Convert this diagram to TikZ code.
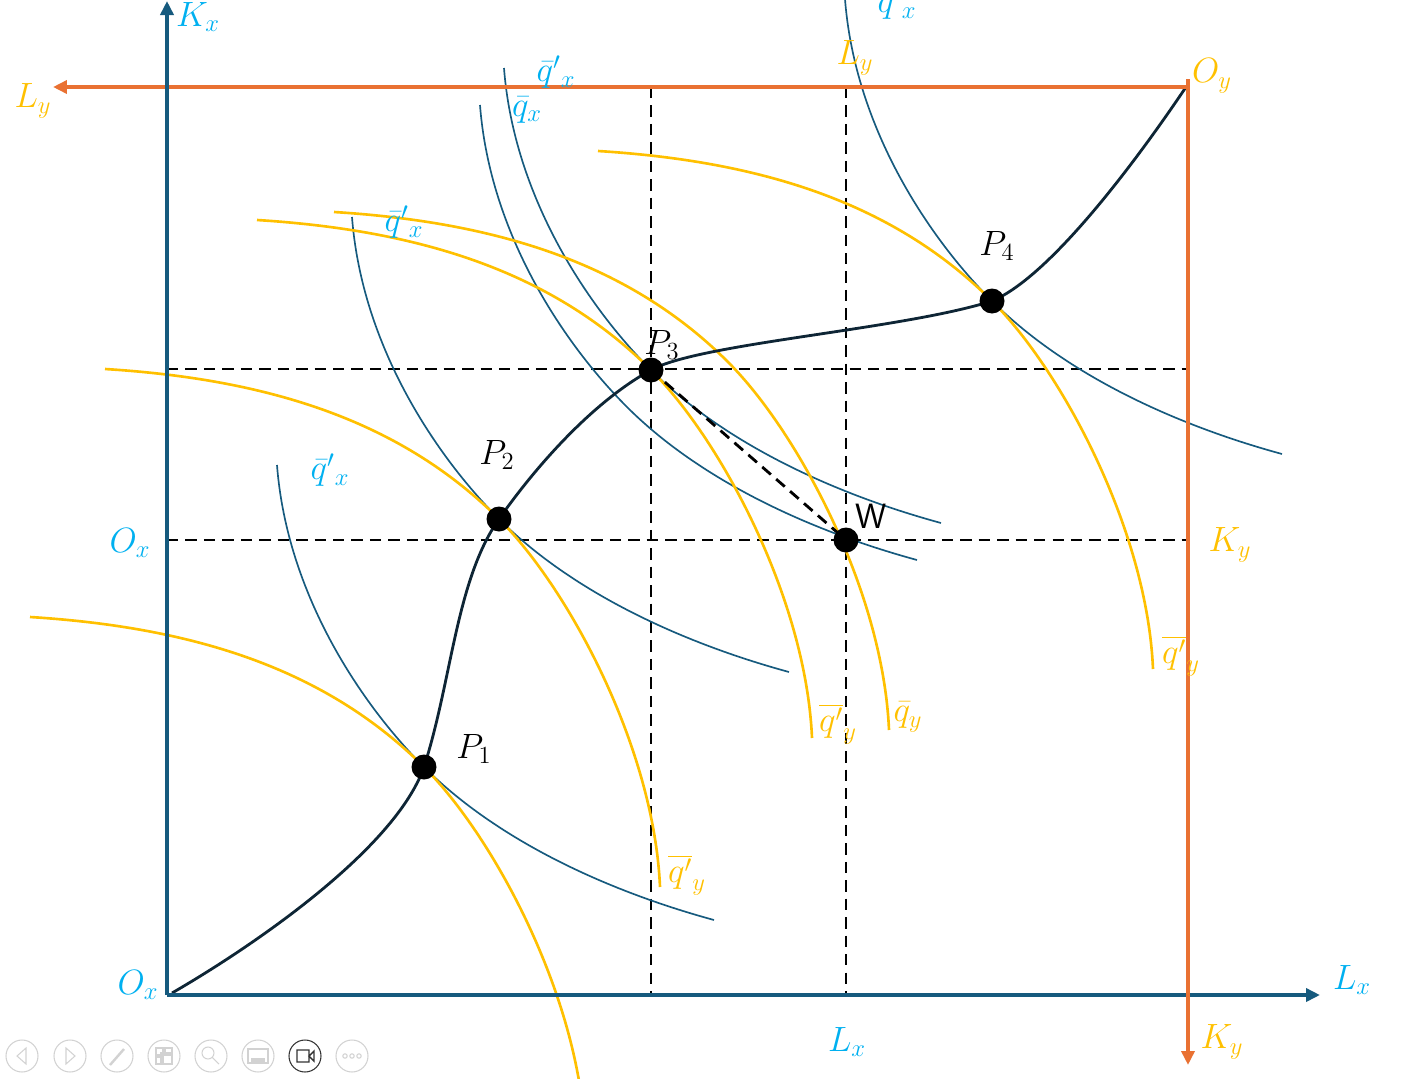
\RequirePackage{fix-cm}
\documentclass[tikz,border=0pt]{standalone}
\usetikzlibrary{arrows.meta}
\definecolor{axblue}{HTML}{165A7E}
\definecolor{axorange}{HTML}{E97132}
\definecolor{ygold}{HTML}{FFC000}
\definecolor{lcyan}{HTML}{00B0F0}
\definecolor{cdark}{HTML}{0E2535}
\definecolor{tbgray}{HTML}{D2D2D2}
\definecolor{tbdark}{HTML}{333333}
\begin{document}
\begin{tikzpicture}[x=0.02cm,y=-0.02cm,
  lbl/.style={font=\fontsize{20}{24}\selectfont, inner sep=0},
  cl/.style={lbl, text=lcyan},
  yl/.style={lbl, text=ygold},
  bl/.style={lbl, text=black},
  bluecurve/.style={draw=axblue, line width=0.95pt},
  goldcurve/.style={draw=ygold, line width=1.5pt},
  contract/.style={draw=cdark, line width=1.6pt},
  dashline/.style={draw=black, line width=1.6pt, dash pattern=on 6.5pt off 4pt},
  blueaxis/.style={draw=axblue, line width=2.3pt, -{Triangle[length=0.28cm,width=0.26cm]}},
  orangeaxis/.style={draw=axorange, line width=2pt, -{Triangle[length=0.28cm,width=0.26cm]}},
  dot/.style={circle, fill=black, inner sep=0, minimum size=0.5cm},
  tb/.style={draw=tbgray, line width=0.6pt},
]
\useasboundingbox (0,0) rectangle (1418,1079);

% key coordinates
\coordinate (ox) at (167,995);
\coordinate (kxtop) at (167,1);
\coordinate (lxend) at (1320,995);
\coordinate (oy) at (1188,87);
\coordinate (oytop) at (1188,79);
\coordinate (lyend) at (53,87);
\coordinate (kyend) at (1188,1065);
\coordinate (cstart) at (172,993);
\coordinate (cend) at (1186,87);
\coordinate (p1) at (424,767);
\coordinate (p2) at (499,519);
\coordinate (p3) at (651,370);
\coordinate (p4) at (992,301);
\coordinate (w) at (846,540);

% dashed guide lines
\draw[dashline] (167,369) -- (1188,369);
\draw[dashline] (167,540) -- (1188,540);
\draw[dashline] (651,87) -- (651,995);
\draw[dashline] (846,87) -- (846,995);

% blue isoquants (x): one shape, shifted
\foreach \sx/\sy in {0/0, 75/-248, 227/-397, 203/-360, 568/-466} {
  \draw[bluecurve, shift={(\sx,\sy)}] (277,465) .. controls +(10,130) and +(-62,-62) .. (424,767)
     .. controls +(72,72) and +(-110,-30) .. (714,920);
}

% gold isoquants (y): one shape, shifted
\foreach \sx/\sy in {0/0, 75/-248, 227/-397, 304/-405, 568/-466} {
  \draw[goldcurve, shift={(\sx,\sy)}] (30,617) .. controls +(160,10) and +(-100,-100) .. (424,767)
     .. controls +(70,70) and +(-6,-139) .. (585,1135);
}

% contract curve
\draw[contract] (cstart) .. controls (250,948) and (395,850) .. (p1)
  .. controls (452,680) and (456,580) .. (p2)
  .. controls (534,469) and (591,403) .. (p3)
  .. controls (700,343) and (900,330) .. (p4)
  .. controls (1052,276) and (1141,154) .. (cend);

% axes
\draw[orangeaxis] (oy) -- (lyend);
\draw[blueaxis] (ox) -- (kxtop);
\draw[blueaxis] (ox) -- (lxend);
\draw[orangeaxis] (oytop) -- (kyend);

% points
\node[dot] (P1) at (p1) {};
\node[dot] (P2) at (p2) {};
\node[dot] (P3) at (p3) {};
\node[dot] (P4) at (p4) {};
\node[dot] (W) at (w) {};
\draw[dashline] (P3.center) -- (W.center);

% labels
\node[cl] (lKx) at (198,17) {$K_x$};
\node[yl] (lLy1) at (33,101) {$L_y$};
\node[cl] (lq1) at (556,72) {$\bar{q}'{}_x$};
\node[cl] (lq2) at (527,110) {$\bar{q}_x$};
\node[cl] (lq3) at (897,3) {$\bar{q}'{}_x$};
\node[yl] (lLy2) at (855,58) {$L_y$};
\node[yl] (lOy) at (1212,76) {$O_y$};
\node[bl] (lP4) at (997,246) {$P_4$};
\node[cl] (lq4) at (404,222) {$\bar{q}'{}_x$};
\node[bl] (lP3) at (662,345) {$P_3$};
\node[bl] (lP2) at (497,455) {$P_2$};
\node[cl] (lq5) at (330,470) {$\bar{q}'{}_x$};
\node[cl] (lOx1) at (130,543) {$O_x$};
\node[bl, font=\fontsize{20}{24}\selectfont\sffamily] (lW) at (871,516) {W};
\node[yl] (lKy1) at (1230,545) {$K_y$};
\node[yl] (lq6) at (1181,656) {$\overline{q'}_y$};
\node[yl] (lq7) at (838,724) {$\overline{q'}_y$};
\node[yl] (lq8) at (908,717) {$\bar{q}_y$};
\node[bl] (lP1) at (474,749) {$P_1$};
\node[yl] (lq9) at (687,875) {$\overline{q'}_y$};
\node[cl] (lOx2) at (138,985) {$O_x$};
\node[cl] (lLx1) at (1352,980) {$L_x$};
\node[cl] (lLx2) at (847,1042) {$L_x$};
\node[yl] (lKy2) at (1222,1042) {$K_y$};

% presentation toolbar
\foreach \cx in {22,70,117,164,211,258,352} {\draw[tb] (\cx,1056) circle (16);}
\draw[draw=tbdark, line width=0.6pt] (305,1056) circle (16);
\draw[tb] (26,1048) -- (17,1056) -- (26,1064) -- cycle;
\draw[tb] (66,1048) -- (75,1056) -- (66,1064) -- cycle;
\draw[tb, line width=1.4pt] (110,1065) -- (124,1049);
\draw[tb] (156,1048) rectangle (163,1055) (165,1048) rectangle (172,1055) (156,1057) rectangle (163,1064) (161,1053) rectangle (172,1064);
\draw[tb] (208,1053) circle (6) (212,1057) -- (219,1064);
\draw[tb] (248,1049) rectangle (268,1063) (251,1059) -- (265,1059) (251,1061) -- (265,1061);
\draw[draw=tbdark, line width=0.8pt] (297,1050) rectangle (309,1062) (309,1056) -- (314,1051) -- (314,1061) -- cycle;
\foreach \dx in {345,352,359} {\draw[tb] (\dx,1056) circle (2.2);}
\end{tikzpicture}
\end{document}
